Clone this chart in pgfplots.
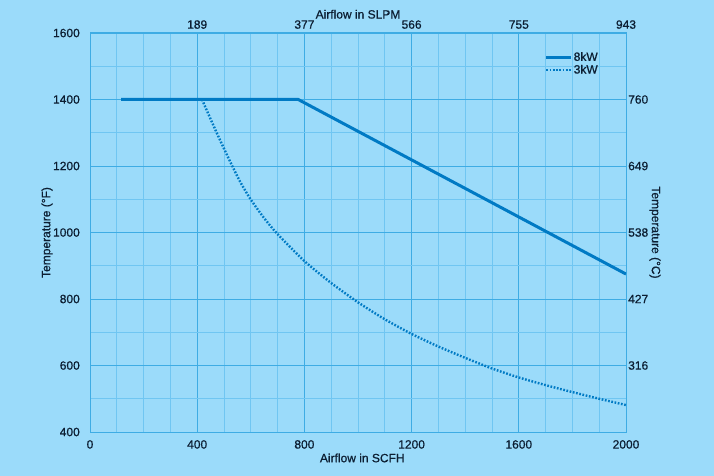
\documentclass[border=0pt]{standalone}
\usepackage{fontspec}
\setmainfont{Liberation Sans}[FakeBold=0.7]
\usepackage{pgfplots}
\pgfplotsset{compat=1.18}
\definecolor{bg}{RGB}{155,219,250}
\definecolor{gmaj}{RGB}{62,172,228}
\definecolor{gmin}{RGB}{112,198,242}
\definecolor{cline}{RGB}{0,122,196}
\definecolor{ctext}{RGB}{12,30,50}
\begin{document}
\begin{tikzpicture}
\fill[bg] (0,0) rectangle (714bp,476bp);
\useasboundingbox (0,0) rectangle (714bp,476bp);
\pgfplotsset{
  common/.style={
    at={(90bp,44bp)}, anchor=south west,
    scale only axis, width=536bp, height=399bp,
    xmin=0, xmax=2000, ymin=400, ymax=1600,
    major tick length=0pt, minor tick length=0pt,
    tick style={draw=none},
    font=\fontsize{12bp}{14bp}\selectfont\color{ctext},
    ticklabel style={font=\fontsize{12bp}{14bp}\selectfont, text=ctext},
    /pgf/number format/assume math mode=true,
    /pgf/number format/set thousands separator={},
  }
}
\begin{axis}[common,
  xtick={0,400,...,2000}, ytick={400,600,...,1600},
  minor xtick={100,200,300,500,600,700,900,1000,1100,1300,1400,1500,1700,1800,1900},
  minor ytick={500,700,...,1500},
  grid=both,
  major grid style={draw=gmaj, line width=0.9bp},
  minor grid style={draw=gmin, line width=0.7bp},
  axis line style={draw=gmaj, line width=1bp},
  yticklabel style={anchor=east, inner sep=0pt, xshift=-10bp},
  xticklabel style={anchor=north, inner sep=0pt, yshift=-8bp},
  xlabel={Airflow in SCFH},
  ylabel={Temperature (°F)},
  every axis x label/.style={at={(axis description cs:0.508,-0.065)}, anchor=center, font=\fontsize{12bp}{14bp}\selectfont, text=ctext},
  every axis y label/.style={at={(axis description cs:-0.080,0.5)}, anchor=center, rotate=90, font=\fontsize{12bp}{14bp}\selectfont, text=ctext},
  legend style={at={(axis description cs:0.848,0.955)}, anchor=north west, draw=none, fill=none, inner sep=0pt, row sep=0.5bp,
    nodes={inner sep=1bp, font=\fontsize{12bp}{13bp}\selectfont, text=ctext}},
  legend cell align=left,
  legend image code/.code={\draw[#1] (0bp,0bp) -- (25bp,0bp);},
]
\addplot[cline, line width=3bp] coordinates {(116,1400) (777,1400) (2000,875)};
\addlegendentry{8kW}
\addplot[cline, line width=2.4bp, dash pattern=on 1.7bp off 1.6bp, smooth, tension=0.4] coordinates {
(418,1400) (450,1341) (480,1287) (520,1218) (560,1153) (600,1099) (650,1043) (700,995)
(800,914) (900,848) (1000,790) (1100,739) (1200,695) (1300,657) (1400,623)
(1500,591) (1600,564) (1700,541) (1800,520) (1900,500) (2000,481)};
\addlegendentry{3kW}
\end{axis}
\begin{axis}[common,
  axis line style={draw=none},
  xticklabel pos=upper, yticklabel pos=upper,
  xtick={400,800,1200,1600,2000}, xticklabels={189,377,566,755,943},
  ytick={600,800,1000,1200,1400}, yticklabels={316,427,538,649,760},
  yticklabel style={anchor=west, inner sep=0pt, xshift=2bp},
  xticklabel style={anchor=south, inner sep=0pt, yshift=4bp},
  xlabel={Airflow in SLPM},
  ylabel={Temperature (°C)},
  every axis x label/.style={at={(axis description cs:0.5,1.047)}, anchor=center, font=\fontsize{12bp}{14bp}\selectfont, text=ctext},
  every axis y label/.style={at={(axis description cs:1.054,0.5)}, anchor=center, rotate=-90, font=\fontsize{12bp}{14bp}\selectfont, text=ctext},
]
\end{axis}
\end{tikzpicture}
\end{document}
